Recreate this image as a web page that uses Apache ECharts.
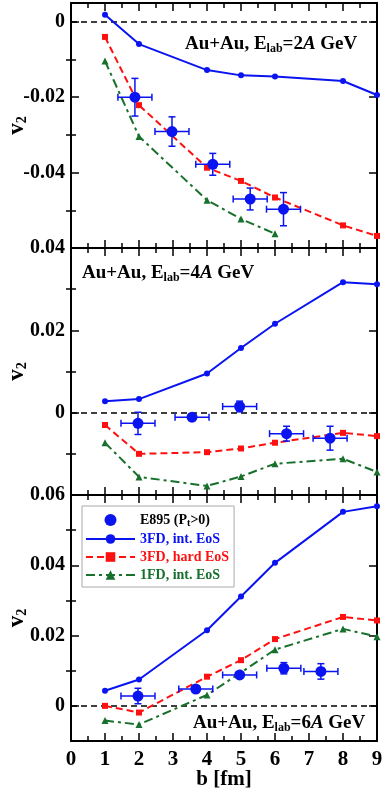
<!DOCTYPE html>
<html><head><meta charset="utf-8">
<script src="https://cdn.jsdelivr.net/npm/echarts@6/dist/echarts.min.js"></script>
<style>html,body{margin:0;padding:0;background:#fff}#c{width:382px;height:793px}</style>
</head><body><div id="c"></div>
<script>
// ---------- data ----------
const bModel = [1, 2, 4, 5, 6, 8, 9];
// Panel 1: Au+Au, Elab = 2A GeV
const p1_3fdInt  = [0.0019, -0.0059, -0.0128, -0.0142, -0.0145, -0.0157, -0.0194];
const p1_3fdHard = [-0.0040, -0.0221, -0.0387, -0.0422, -0.0466, -0.0540, -0.0568];
const p1_1fd_b   = [1, 2, 4, 5, 6];
const p1_1fdInt  = [-0.0104, -0.0304, -0.0473, -0.0523, -0.0562];
const p1_exp_b    = [1.88, 2.97, 4.17, 5.27, 6.25];
const p1_exp_v    = [-0.0200, -0.0291, -0.0378, -0.0470, -0.0497];
const p1_exp_bErr = [0.5, 0.5, 0.5, 0.5, 0.5];
const p1_exp_vErr = [0.0050, 0.0039, 0.0029, 0.0029, 0.0044];
// Panel 2: Au+Au, Elab = 4A GeV
const p2_3fdInt  = [0.0028, 0.0033, 0.0095, 0.0157, 0.0216, 0.0317, 0.0312];
const p2_3fdHard = [-0.0030, -0.0100, -0.0096, -0.0087, -0.0073, -0.0049, -0.0057];
const p2_1fd_b   = [1, 2, 4, 5, 6, 8, 9];
const p2_1fdInt  = [-0.0073, -0.0156, -0.0178, -0.0155, -0.0124, -0.0112, -0.0144];
const p2_exp_b    = [1.97, 3.56, 4.96, 6.34, 7.62];
const p2_exp_v    = [-0.0026, -0.0011, 0.0015, -0.0051, -0.0062];
const p2_exp_bErr = [0.5, 0.5, 0.5, 0.5, 0.5];
const p2_exp_vErr = [0.0027, 0.0008, 0.0013, 0.0018, 0.0029];
// Panel 3: Au+Au, Elab = 6A GeV
const p3_3fdInt  = [0.0043, 0.0075, 0.0215, 0.0311, 0.0407, 0.0552, 0.0568];
const p3_3fdHard = [0.0000, -0.0019, 0.0083, 0.0130, 0.0190, 0.0253, 0.0243];
const p3_1fd_b   = [1, 2, 4, 5, 6, 8, 9];
const p3_1fdInt  = [-0.0042, -0.0053, 0.0031, 0.0095, 0.0160, 0.0219, 0.0197];
const p3_exp_b    = [1.97, 3.67, 4.96, 6.26, 7.35];
const p3_exp_v    = [0.0028, 0.0048, 0.0088, 0.0107, 0.0098];
const p3_exp_bErr = [0.5, 0.5, 0.5, 0.5, 0.5];
const p3_exp_vErr = [0.0022, 0.0006, 0.0008, 0.0016, 0.0022];
// axis ranges / ticks
const yRange  = [[-0.06, 0.005], [-0.02, 0.04], [-0.01, 0.06]];
const yMajor  = [[-0.06, -0.04, -0.02, 0], [-0.02, 0, 0.02, 0.04], [0, 0.02, 0.04, 0.06]];
const yMinor  = [[-0.05, -0.03, -0.01], [-0.01, 0.01, 0.03], [0.01, 0.03, 0.05]];
const yLabels = [[-0.04, -0.02, 0], [0, 0.02, 0.04], [0, 0.02, 0.04, 0.06]];
const energies = ['2', '4', '6'];

// ---------- style ----------
const F = 'Liberation Serif';
const BLUE = '#0a14f0', RED = '#ff1010', GREEN = '#17702b';
const names = ['E895 (Pt>0)', '3FD, int. EoS', '3FD, hard EoS', '1FD, int. EoS'];

const grids = [
  {left: 71, right: 5, top: 3, height: 245, outerBoundsMode: 'none'},
  {left: 71, right: 5, top: 248, height: 247, outerBoundsMode: 'none'},
  {left: 71, right: 5, top: 495, height: 246, outerBoundsMode: 'none'}
];
const lineAx = {show: true, onZero: false, lineStyle: {color: '#000', width: 2}};
const tickSt = {color: '#000', width: 1.5};

const xAxes = [], yAxes = [];
for (let g = 0; g < 3; g++) {
  ['bottom', 'top'].forEach(pos => {
    const showLab = (g === 2 && pos === 'bottom');
    xAxes.push({
      gridIndex: g, type: 'value', min: 0, max: 9, interval: 1, position: pos,
      axisLine: lineAx, splitLine: {show: false},
      axisTick: {show: true, inside: true, length: 8, lineStyle: tickSt},
      minorTick: {show: true, splitNumber: 2, length: 5, lineStyle: tickSt},
      axisLabel: {show: showLab, margin: 8, color: '#000', fontFamily: F, fontSize: 21, fontWeight: 'bold',
                  formatter: v => String(v)},
      name: showLab ? 'b [fm]' : '', nameLocation: 'middle', nameGap: 28, nameMoveOverlap: false,
      nameTextStyle: {color: '#000', fontFamily: F, fontSize: 21, fontWeight: 'bold'}
    });
  });
  const fmt = v => (Math.abs(v) < 1e-9 ? '0' : (+v).toFixed(2));
  ['left', 'right'].forEach(pos => {
    const common = {gridIndex: g, type: 'value', min: yRange[g][0], max: yRange[g][1], position: pos,
      axisLine: lineAx, splitLine: {show: false}};
    yAxes.push(Object.assign({}, common, {
      axisTick: {show: true, inside: true, length: 8, customValues: yMajor[g], lineStyle: tickSt},
      axisLabel: pos === 'left'
        ? {show: true, customValues: yLabels[g], margin: 6, formatter: fmt, color: '#000', fontFamily: F, fontSize: 20, fontWeight: 'bold'}
        : {show: false},
      name: pos === 'left' ? '{v|v}{s|2}' : '', nameLocation: 'middle', nameGap: 42, nameMoveOverlap: false,
      nameTextStyle: {rich: {
        v: {fontFamily: F, fontSize: 23, fontWeight: 'bold', color: '#000'},
        s: {fontFamily: F, fontSize: 14, fontWeight: 'bold', color: '#000', padding: [10, 0, 0, 0]}
      }}
    }));
    yAxes.push(Object.assign({}, common, {
      axisLine: {show: false},
      axisTick: {show: true, inside: true, length: 5, customValues: yMinor[g], lineStyle: tickSt},
      axisLabel: {show: false}
    }));
  });
}

const panels = [
  {int: p1_3fdInt, hard: p1_3fdHard, fb: p1_1fd_b, f: p1_1fdInt, eb: p1_exp_b, ev: p1_exp_v, ebe: p1_exp_bErr, eve: p1_exp_vErr},
  {int: p2_3fdInt, hard: p2_3fdHard, fb: p2_1fd_b, f: p2_1fdInt, eb: p2_exp_b, ev: p2_exp_v, ebe: p2_exp_bErr, eve: p2_exp_vErr},
  {int: p3_3fdInt, hard: p3_3fdHard, fb: p3_1fd_b, f: p3_1fdInt, eb: p3_exp_b, ev: p3_exp_v, ebe: p3_exp_bErr, eve: p3_exp_vErr}
];

const series = [];
panels.forEach((p, g) => {
  const xi = g * 2, yi = g * 4;
  series.push({
    name: names[1], type: 'line', xAxisIndex: xi, yAxisIndex: yi, z: 3,
    data: bModel.map((b, i) => [b, p.int[i]]),
    symbol: 'circle', symbolSize: 6, itemStyle: {color: BLUE},
    lineStyle: {color: BLUE, width: 2},
    markLine: {silent: true, symbol: ['none', 'none'], label: {show: false}, z: 2,
      lineStyle: {color: '#000', type: [6, 4], width: 1.5}, data: [{yAxis: 0}]}
  });
  series.push({
    name: names[2], type: 'line', xAxisIndex: xi, yAxisIndex: yi, z: 3,
    data: bModel.map((b, i) => [b, p.hard[i]]),
    symbol: 'rect', symbolSize: 6, itemStyle: {color: RED},
    lineStyle: {color: RED, width: 2, type: [7, 4]}
  });
  series.push({
    name: names[3], type: 'line', xAxisIndex: xi, yAxisIndex: yi, z: 3,
    data: p.fb.map((b, i) => [b, p.f[i]]),
    symbol: 'triangle', symbolSize: 7, itemStyle: {color: GREEN},
    lineStyle: {color: GREEN, width: 2, type: [9, 4, 3, 4]}
  });
  series.push({
    name: names[0], type: 'custom', xAxisIndex: xi, yAxisIndex: yi, z: 4,
    data: p.eb.map((b, i) => [b, p.ev[i], p.ebe[i], p.eve[i]]),
    renderItem: (params, api) => {
      const x = api.value(0), y = api.value(1), dx = api.value(2), dy = api.value(3);
      const c = api.coord([x, y]);
      const l = api.coord([x - dx, y]), r = api.coord([x + dx, y]);
      const t = api.coord([x, y + dy]), bt = api.coord([x, y - dy]);
      const st = {stroke: BLUE, lineWidth: 1.5};
      const cap = 3.5;
      return {type: 'group', children: [
        {type: 'line', shape: {x1: l[0], y1: c[1], x2: r[0], y2: c[1]}, style: st},
        {type: 'line', shape: {x1: c[0], y1: t[1], x2: c[0], y2: bt[1]}, style: st},
        {type: 'line', shape: {x1: l[0], y1: c[1] - cap, x2: l[0], y2: c[1] + cap}, style: st},
        {type: 'line', shape: {x1: r[0], y1: c[1] - cap, x2: r[0], y2: c[1] + cap}, style: st},
        {type: 'line', shape: {x1: c[0] - cap, y1: t[1], x2: c[0] + cap, y2: t[1]}, style: st},
        {type: 'line', shape: {x1: c[0] - cap, y1: bt[1], x2: c[0] + cap, y2: bt[1]}, style: st}
      ]};
    }
  });
  series.push({
    name: names[0], type: 'scatter', xAxisIndex: xi, yAxisIndex: yi, z: 5,
    data: p.eb.map((b, i) => [b, p.ev[i]]),
    symbol: 'circle', symbolSize: 11, itemStyle: {color: BLUE, opacity: 1}
  });
});

const annRich = {
  n: {fontFamily: F, fontSize: 19, fontWeight: 'bold', fill: '#000'},
  s: {fontFamily: F, fontSize: 12, fontWeight: 'bold', fill: '#000', padding: [9, 0, 0, 0]},
  i: {fontFamily: F, fontSize: 19, fontWeight: 'bold', fontStyle: 'italic', fill: '#000'}
};
const annPos = [[185, 44], [82, 273], [193, 723]];
const graphic = energies.map((e, k) => ({
  type: 'text', x: annPos[k][0], y: annPos[k][1], z: 10,
  style: {text: '{n|Au+Au, E}{s|lab}{n|=' + e + '}{i|A}{n| GeV}', rich: annRich, align: 'left', verticalAlign: 'middle'}
}));

const chart = echarts.init(document.getElementById('c'), null, {renderer: 'canvas'});
chart.setOption({
  animation: false,
  backgroundColor: '#fff',
  grid: grids,
  xAxis: xAxes,
  yAxis: yAxes,
  legend: {
    orient: 'vertical', left: 82, top: 506, itemWidth: 49, itemHeight: 12, itemGap: 4,
    padding: [7, 5, 5, 3], backgroundColor: '#fff', borderColor: '#aaa', borderWidth: 1,
    selectedMode: false,
    itemStyle: {opacity: 1},
    textStyle: {fontFamily: F, fontSize: 14, fontWeight: 'bold', lineHeight: 14,
      rich: {
        a: {fontFamily: F, fontSize: 14, fontWeight: 'bold', color: '#000'},
        t: {fontFamily: F, fontSize: 10, fontWeight: 'bold', color: '#000', padding: [6, 0, 0, 0]}
      }},
    formatter: name => name === names[0] ? '{a|E895 (P}{t|t}{a|>0)}' : name,
    data: [
      {name: names[0], icon: 'circle', textStyle: {color: '#000'}, itemStyle: {opacity: 1, color: BLUE}},
      {name: names[1], textStyle: {color: BLUE}},
      {name: names[2], textStyle: {color: RED}},
      {name: names[3], textStyle: {color: GREEN}}
    ]
  },
  graphic: graphic,
  series: series
});
</script>
</body></html>
